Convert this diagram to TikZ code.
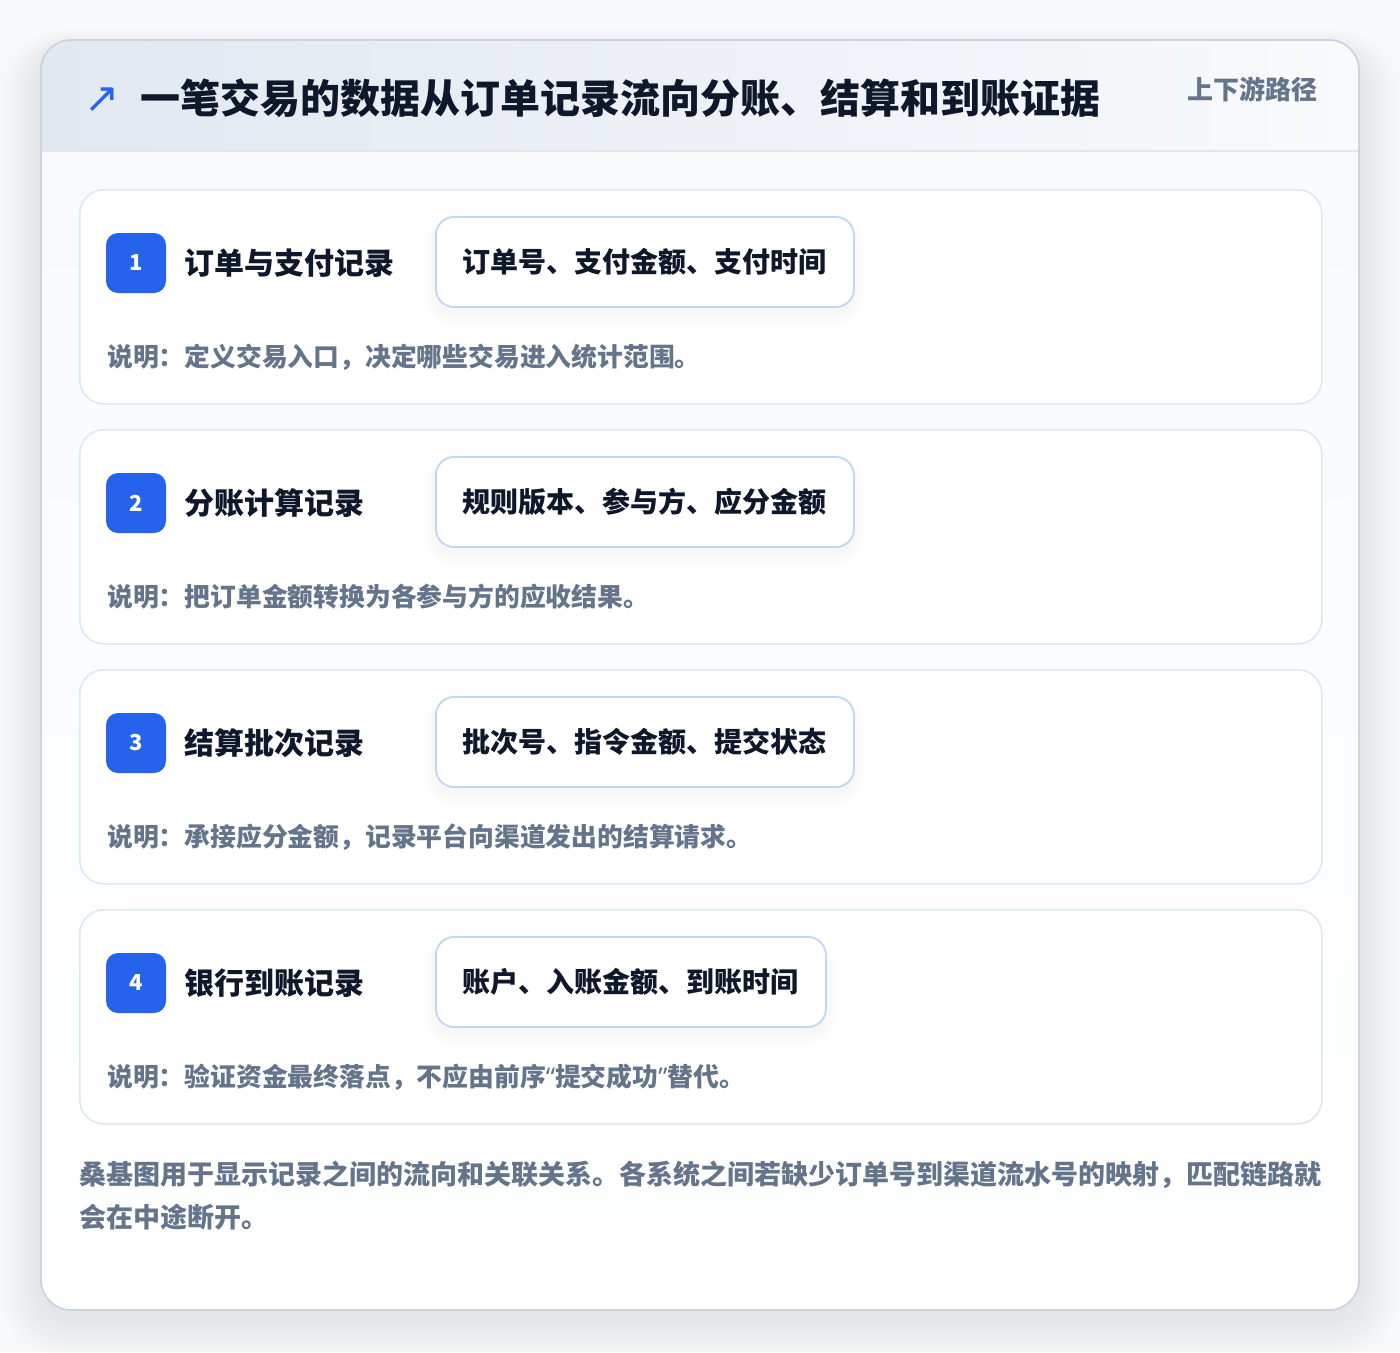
\documentclass[tikz,border=0pt]{standalone}
\usepackage{fontspec}
\setmainfont{Noto Sans CJK SC}
\newfontfamily\symfont{DejaVu Sans}
\newfontfamily\latinfont{Noto Sans}
\definecolor{pagebg}{HTML}{F7F8FA}
\definecolor{outerline}{HTML}{CBD5E1}
\definecolor{headL}{HTML}{E2E8F0}
\definecolor{headR}{HTML}{F8FAFC}
\definecolor{headline}{HTML}{DBE7F5}
\definecolor{cardline}{HTML}{DCE8F7}
\definecolor{fieldline}{HTML}{BFD6F4}
\definecolor{badgeblue}{HTML}{2563EB}
\definecolor{ink}{HTML}{0F172A}
\definecolor{muted}{HTML}{64748B}
\definecolor{bodytop}{HTML}{F8FAFC}
\definecolor{shadowc}{HTML}{1E293B}
\tikzset{
  card/.style={draw=cardline, line width=1.6pt, fill=white, rounded corners=24pt,
    minimum width=1242pt, minimum height=214pt, anchor=north west, inner sep=0pt},
  badge/.style={fill=badgeblue, rounded corners=12pt, minimum size=60pt, inner sep=0pt,
    text=white, font=\bfseries\fontsize{22}{26}\selectfont},
  rectitle/.style={anchor=west, inner sep=0pt, text=ink, font=\bfseries\fontsize{30}{36}\selectfont},
  fieldbox/.style={anchor=west, draw=fieldline, line width=1.8pt, fill=white, rounded corners=18pt,
    minimum height=90pt, inner xsep=27pt, inner ysep=0pt, text=ink,
    font=\bfseries\fontsize{28}{34}\selectfont},
  desc/.style={anchor=west, inner sep=0pt, text=muted, font=\bfseries\fontsize{25.8}{31}\selectfont},
  foot/.style={anchor=west, inner sep=0pt, text=muted, font=\bfseries\fontsize{27}{33}\selectfont},
}
\newcommand{\myLq}{{\latinfont “}}
\newcommand{\myRq}{{\latinfont ”}}
\begin{document}
\begin{tikzpicture}[x=1pt,y=-1pt]
\useasboundingbox (0,0) rectangle (1400,1352);
\fill[pagebg] (0,0) rectangle (1400,1352);
% outer card soft shadow
\foreach \k in {1,...,18}{
  \fill[shadowc, opacity=0.0045, rounded corners={30pt+\k*2pt}]
    ({41-\k*2.2},{40-\k*1.2+12}) rectangle ({1359+\k*2.2},{1310+\k*2.2+10});
}
\fill[white, rounded corners=30pt] (41,40) rectangle (1359,1310);
\begin{scope}
  \clip[rounded corners=30pt] (41,40) rectangle (1359,1310);
  \shade[top color=bodytop, bottom color=white] (41,151) rectangle (1359,1310);
  \shade[left color=headL, right color=headR] (41,40) rectangle (1359,151);
  \draw[headline, line width=1.6pt] (41,151) -- (1359,151);
\end{scope}
\draw[outerline, line width=1.8pt, rounded corners=30pt] (41,40) rectangle (1359,1310);
% header
\node[inner sep=0pt, text=badgeblue, font=\symfont\fontsize{42}{46}\selectfont] (icon) at (102,100) {↗};
\node[anchor=west, inner sep=0pt, text=ink, font=\bfseries\fontsize{40}{46}\selectfont] (title) at (140,98)
  {一笔交易的数据从订单记录流向分账、结算和到账证据};
\node[anchor=east, inner sep=0pt, text=muted, font=\bfseries\fontsize{26}{30}\selectfont] (tag) at (1318,89) {上下游路径};
% cards
\foreach \i/\lab/\fld/\fw/\dsc in {
  1/订单与支付记录/订单号、支付金额、支付时间/418/说明：定义交易入口，决定哪些交易进入统计范围。,
  2/分账计算记录/规则版本、参与方、应分金额/418/说明：把订单金额转换为各参与方的应收结果。,
  3/结算批次记录/批次号、指令金额、提交状态/418/说明：承接应分金额，记录平台向渠道发出的结算请求。,
  4/银行到账记录/账户、入账金额、到账时间/390/说明：验证资金最终落点，不应由前序\myLq 提交成功\myRq 替代。}{
  \pgfmathsetmacro{\yo}{240*(\i-1)}
  \node[card] (card\i) at (79,189+\yo) {};
  \foreach \k in {1,...,8}{
    \fill[shadowc, opacity=0.005, rounded corners={18pt+\k*1.5pt}]
      ({435-\k*1.5},{217+\yo-\k*0.5+6}) rectangle ({435+\fw+\k*1.5},{307+\yo+\k*1.8+6});
  }
  \node[badge] (badge\i) at (136,263+\yo) {\i};
  \node[rectitle] (rt\i) at (184,263+\yo) {\lab};
  \node[fieldbox] (field\i) at (435,262+\yo) {\fld};
  \node[desc] (desc\i) at (107,357+\yo) {\dsc};
}
% footer
\node[foot] (foot1) at (79,1175) {桑基图用于显示记录之间的流向和关联关系。各系统之间若缺少订单号到渠道流水号的映射，匹配链路就};
\node[foot] (foot2) at (79,1217) {会在中途断开。};
\end{tikzpicture}
\end{document}
